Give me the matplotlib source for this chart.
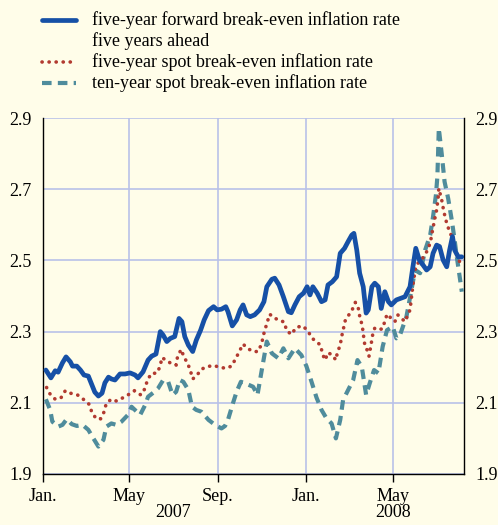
import matplotlib
matplotlib.use("Agg")
import matplotlib.pyplot as plt
from matplotlib.lines import Line2D
import pandas as pd
import numpy as np

# ---- data (days since 1 Jan 2007, value in percent) ----
fwd_days = [4, 11, 17, 21, 27, 32, 38, 41, 47, 52, 57, 63, 68, 72, 77, 82, 86, 91, 95, 100,
            107, 114, 121, 128, 132, 139, 146, 151, 157, 163, 167, 172, 177, 183, 189, 193, 197,
            202, 208, 213, 219, 224, 230, 237, 242, 248, 254, 257, 263, 269, 274, 278, 283, 288,
            294, 301, 307, 311, 318, 322, 328, 334, 341, 345, 350, 356, 362, 367, 371, 375, 381,
            387, 392, 396, 402, 408, 413, 419, 424, 429, 432, 436, 440, 445, 449, 452, 457, 461,
            466, 470, 475, 480, 484, 491, 503, 510, 514, 518, 523, 527, 533, 538, 542, 547, 551,
            556, 561, 565, 569, 572, 577, 582]
fwd_vals = [2.192, 2.170, 2.190, 2.186, 2.212, 2.229, 2.215, 2.203, 2.203, 2.192, 2.178, 2.175,
            2.150, 2.130, 2.119, 2.127, 2.156, 2.172, 2.167, 2.164, 2.181, 2.181, 2.184, 2.178,
            2.170, 2.187, 2.220, 2.231, 2.237, 2.300, 2.290, 2.272, 2.281, 2.286, 2.337, 2.328,
            2.286, 2.262, 2.244, 2.276, 2.304, 2.333, 2.359, 2.370, 2.361, 2.363, 2.370, 2.356,
            2.316, 2.333, 2.361, 2.375, 2.347, 2.342, 2.347, 2.361, 2.384, 2.426, 2.447, 2.450,
            2.431, 2.398, 2.356, 2.353, 2.375, 2.398, 2.408, 2.426, 2.403, 2.426, 2.408, 2.384,
            2.389, 2.431, 2.440, 2.454, 2.520, 2.534, 2.553, 2.571, 2.576, 2.529, 2.464, 2.426,
            2.352, 2.361, 2.426, 2.436, 2.426, 2.365, 2.412, 2.384, 2.375, 2.389, 2.398, 2.426,
            2.482, 2.534, 2.501, 2.490, 2.473, 2.482, 2.520, 2.543, 2.539, 2.501, 2.482, 2.529,
            2.567, 2.529, 2.510, 2.510]

spot5_days = [5, 10, 17, 25, 31, 38, 48, 56, 64, 68, 74, 80, 85, 88, 95, 102, 110, 118, 127,
              136, 142, 145, 151, 158, 163, 165, 171, 179, 185, 187, 192, 196, 201, 205, 208,
              213, 220, 227, 237, 245, 254, 262, 268, 273, 278, 284, 292, 299, 304, 306, 309,
              315, 322, 329, 336, 338, 345, 352, 361, 368, 374, 380, 386, 388, 392, 396, 402,
              407, 409, 413, 415, 420, 425, 430, 434, 438, 440, 443, 445, 446, 448, 452, 453,
              456, 458, 461, 464, 471, 475, 478, 484, 489, 493, 503, 510, 514, 518, 521, 526,
              533, 538, 541, 544, 547, 549, 550, 554, 557, 561, 565, 569, 572, 576, 579]
spot5_vals = [2.143, 2.124, 2.110, 2.114, 2.134, 2.127, 2.122, 2.110, 2.096, 2.073, 2.055,
              2.055, 2.075, 2.099, 2.110, 2.105, 2.113, 2.122, 2.134, 2.122, 2.141, 2.164,
              2.183, 2.183, 2.203, 2.227, 2.220, 2.209, 2.206, 2.230, 2.250, 2.228, 2.211,
              2.189, 2.167, 2.175, 2.194, 2.201, 2.205, 2.200, 2.197, 2.203, 2.225, 2.245,
              2.265, 2.253, 2.244, 2.244, 2.267, 2.288, 2.309, 2.349, 2.337, 2.333, 2.325,
              2.304, 2.292, 2.312, 2.316, 2.302, 2.281, 2.272, 2.261, 2.239, 2.220, 2.241,
              2.234, 2.220, 2.241, 2.262, 2.286, 2.331, 2.347, 2.363, 2.382, 2.367, 2.344,
              2.321, 2.298, 2.276, 2.255, 2.244, 2.231, 2.265, 2.290, 2.310, 2.307, 2.307,
              2.328, 2.349, 2.337, 2.328, 2.347, 2.328, 2.361, 2.430, 2.484, 2.492, 2.501,
              2.524, 2.548, 2.581, 2.613, 2.642, 2.674, 2.702, 2.670, 2.637, 2.604, 2.581,
              2.562, 2.529, 2.510, 2.496]

spot10_days = [4, 10, 13, 21, 27, 33, 40, 47, 55, 63, 70, 77, 84, 88, 95, 102, 109, 118, 123,
               135, 142, 146, 153, 160, 167, 174, 180, 185, 190, 195, 202, 207, 213, 220, 230,
               239, 248, 253, 257, 264, 269, 275, 283, 292, 298, 304, 311, 318, 327, 334, 341,
               350, 359, 366, 373, 380, 387, 394, 401, 407, 413, 417, 424, 431, 437, 443, 449,
               454, 460, 466, 472, 478, 486, 491, 496, 505, 512, 517, 524, 531, 538, 542, 546,
               548, 549, 550, 554, 558, 563, 568, 572, 575, 579, 582]
spot10_vals = [2.110, 2.080, 2.047, 2.033, 2.038, 2.054, 2.040, 2.035, 2.038, 2.024, 2.000,
               1.977, 1.996, 2.033, 2.042, 2.038, 2.047, 2.066, 2.089, 2.066, 2.094, 2.117,
               2.128, 2.141, 2.164, 2.159, 2.122, 2.131, 2.164, 2.159, 2.136, 2.089, 2.080,
               2.075, 2.052, 2.038, 2.028, 2.035, 2.052, 2.099, 2.131, 2.159, 2.153, 2.145,
               2.122, 2.192, 2.272, 2.239, 2.225, 2.253, 2.225, 2.253, 2.234, 2.203, 2.160,
               2.115, 2.080, 2.056, 2.042, 2.000, 2.052, 2.108, 2.136, 2.164, 2.220, 2.201,
               2.122, 2.155, 2.192, 2.183, 2.258, 2.304, 2.314, 2.281, 2.290, 2.342, 2.417,
               2.473, 2.464, 2.529, 2.571, 2.623, 2.684, 2.735, 2.801, 2.871, 2.800, 2.721,
               2.674, 2.613, 2.557, 2.510, 2.454, 2.412]

legend_lines = ["five-year forward break-even inflation rate",
                "five years ahead",
                "five-year spot break-even inflation rate",
                "ten-year spot break-even inflation rate"]
month_ticks = ["2007-01-01", "2007-05-01", "2007-09-01", "2008-01-01", "2008-05-01"]
month_labels = ["Jan.", "May", "Sep.", "Jan.", "May"]
year_labels = ["2007", "2008"]
year_pos = ["2007-07-01", "2008-05-01"]
y_ticks = [1.9, 2.1, 2.3, 2.5, 2.7, 2.9]

start = pd.Timestamp("2007-01-01")
def to_dates(d):
    return start + pd.to_timedelta(np.array(d), unit="D")

BG = "#fffde9"
GRID = "#b9c1e8"
BLUE = "#1650a6"
RED = "#b23a30"
TEAL = "#4f8c9c"
FONT = "Liberation Serif"
FS = 13

fig = plt.figure(figsize=(4.98, 5.25), dpi=100, facecolor=BG)
ax = fig.add_axes([43/498, 1-474/525, (464-43)/498, (474-118)/525], facecolor=BG)

red_style = dict(color=RED, lw=2.6, dashes=(0.05, 1.9), dash_capstyle="round")
teal_style = dict(color=TEAL, lw=3.0, dashes=(2.3, 1.5), dash_capstyle="butt")
blue_style = dict(color=BLUE, lw=3.4, solid_joinstyle="round", solid_capstyle="round")

ax.plot(to_dates(spot10_days), spot10_vals, zorder=3, **teal_style)
ax.plot(to_dates(spot5_days), spot5_vals, zorder=4, **red_style)
ax.plot(to_dates(fwd_days), fwd_vals, zorder=5, **blue_style)

ax.set_ylim(1.9, 2.9)
ax.set_xlim(start, start + pd.Timedelta(days=585))
ax.set_yticks(y_ticks)
ax.set_yticklabels([f"{v:.1f}" for v in y_ticks])
ax.set_xticks(pd.to_datetime(month_ticks))
ax.set_xticklabels(month_labels)

ax.grid(True, color=GRID, lw=1.2, zorder=0)
for s in ["left", "right", "bottom"]:
    ax.spines[s].set_color("black")
    ax.spines[s].set_linewidth(1.0)
ax.spines["top"].set_visible(False)

ax.tick_params(axis="y", which="both", length=0, labelsize=FS, pad=8,
               left=True, right=True, labelleft=True, labelright=True)
ax.tick_params(axis="x", length=6, width=1.0, direction="out", labelsize=FS, pad=4)
for lab in ax.get_xticklabels() + ax.get_yticklabels():
    lab.set_fontfamily(FONT)

for yl, dt in zip(year_labels, year_pos):
    ax.text(pd.Timestamp(dt), -0.108, yl, transform=ax.get_xaxis_transform(),
            ha="center", va="center", fontsize=FS, family=FONT)

# legend drawn at the top of the figure
leg_x0, leg_x1, tx = 42/498, 76/498, 92/498
handle_rows = [(20, blue_style), (62, red_style), (83, teal_style)]
for r, st in handle_rows:
    yf = 1 - r/525
    fig.add_artist(Line2D([leg_x0, leg_x1], [yf, yf], transform=fig.transFigure, **st))
for r, txt in zip([20, 41, 62, 83], legend_lines):
    fig.text(tx, 1 - r/525, txt, ha="left", va="center", fontsize=FS, family=FONT)

fig.savefig("out.png", dpi=100, facecolor=BG)
